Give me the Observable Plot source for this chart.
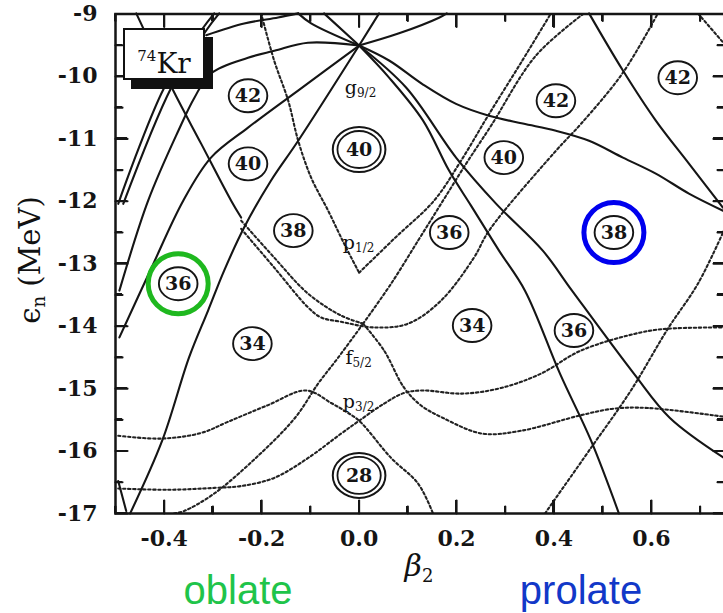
<!DOCTYPE html>
<html><head><meta charset="utf-8">
<script src="https://cdn.jsdelivr.net/npm/d3@7"></script>
<script src="https://cdn.jsdelivr.net/npm/@observablehq/plot@0.6"></script>
<style>
html,body{margin:0;padding:0;background:#fff;overflow:hidden;}
#wrap{position:relative;width:723px;height:613px;overflow:hidden;}
#wrap > svg{position:absolute;left:0;top:0;}
.ov{position:absolute;white-space:nowrap;}
.tk{position:absolute;background:#151515;}
.lvl{font-family:'DejaVu Serif',serif;font-size:19px;color:#111;transform:translate(-50%,-50%);}
.lvl sub{font-size:12px;vertical-align:-3px;}
#kr{left:123px;top:28px;width:78px;height:48px;border:2px solid #111;background:#fff;box-shadow:8px 9px 0 #111;
  font-family:'DejaVu Serif',serif;font-size:28px;text-align:center;line-height:52px;color:#111;}
#kr sup{font-size:15px;vertical-align:12px;}
#ylab{left:31px;top:260px;transform:translate(-50%,-50%) rotate(-90deg);font-family:'DejaVu Serif',serif;font-size:29px;color:#111;}
#ylab sub{font-size:18px;vertical-align:-5px;}
#xlab{left:419px;top:567px;transform:translate(-50%,-50%);font-family:'DejaVu Serif',serif;font-size:30px;font-style:italic;color:#111;}
#xlab sub{font-size:18px;font-style:normal;vertical-align:-6px;}
.side{top:568px;font-family:'Liberation Sans',Arial,sans-serif;font-size:40px;transform:translateX(-50%);}
#obl{left:238px;color:#1fc44a;}
#pro{left:581px;color:#1238c8;}
</style></head><body><div id="wrap"></div>
<script>
// ---------- axis ticks ----------
const betaTicks = [-0.4, -0.2, 0, 0.2, 0.4, 0.6];
const betaMinor = [-0.5, -0.3, -0.1, 0.1, 0.3, 0.5, 0.7];
const energyTicks = [-17, -16, -15, -14, -13, -12, -11, -10, -9];
const energyMinor = [-16.5, -15.5, -14.5, -13.5, -12.5, -11.5, -10.5, -9.5];

// ---------- solid (positive parity) levels: [beta2, energy MeV] ----------
const g9Obl92 = [[0,-9.505],[-0.125,-11.03],[-0.181,-11.67],[-0.236,-12.42],[-0.277,-13.11],[-0.31,-13.75],[-0.349,-14.50],[-0.404,-15.83],[-0.47,-17.0]];
const g9Obl72 = [[0,-9.505],[-0.105,-9.46],[-0.174,-9.59],[-0.228,-9.70],[-0.304,-9.95],[-0.338,-10.34],[-0.371,-10.87],[-0.433,-11.99],[-0.492,-13.43]];
const g9Obl52 = [[0,-9.505],[-0.119,-10.19],[-0.228,-10.82],[-0.304,-11.30],[-0.361,-11.99],[-0.427,-13.08],[-0.492,-14.18]];
const g9Obl12 = [[0,-9.505],[-0.072,-8.99]];
const g9Obl32 = [[0,-9.505],[-0.0985,-9.15],[-0.125,-8.99]];
const g9Pro92 = [[0,-9.505],[0.041,-8.99]];
const g9Pro72 = [[0,-9.505],[0.082,-9.31],[0.164,-9.06],[0.18,-8.99]];
const g9Pro12 = [[0,-9.505],[0.0615,-10.018],[0.1313,-10.707],[0.1846,-11.508],[0.2297,-12.069],[0.2872,-12.79],[0.3405,-13.431],[0.4123,-14.76],[0.4759,-15.83],[0.5333,-17.0]];
const g9Pro32 = [[0,-9.505],[0.0964,-10.178],[0.199,-11.30],[0.281,-12.037],[0.377,-12.79],[0.437,-13.43],[0.564,-14.76],[0.638,-15.47],[0.749,-16.11]];
const g9Pro52 = [[0,-9.505],[0.0615,-9.745],[0.1313,-10.13],[0.199,-10.44],[0.2667,-10.63],[0.336,-10.755],[0.404,-10.87],[0.472,-11.03],[0.5415,-11.30],[0.609,-11.556],[0.677,-11.876],[0.747,-12.15]];
const d5Pro = [[0.472,-8.99],[0.5415,-9.905],[0.609,-10.707],[0.677,-11.396],[0.7467,-12.10]];
const oblSteepA = [[-0.4944,-12.04],[-0.4,-10.18],[-0.3241,-9.264],[-0.2974,-8.99]];
const oblSteepB = [[-0.4841,-12.04],[-0.3856,-10.18],[-0.3138,-9.264],[-0.2872,-8.99]];
const oblDown = [[-0.4574,-8.99],[-0.3815,-10.226],[-0.324,-11.08],[-0.2626,-11.99],[-0.2421,-12.26]];
const oblArc = [[-0.3138,-9.34],[-0.2359,-9.152],[-0.1662,-9.056],[-0.1251,-8.99]];
const oblCorner = [[-0.4944,-16.48],[-0.478,-16.96]];

// ---------- dotted (negative parity) levels ----------
const p12Left = [[-0.201,-8.99],[-0.1744,-9.745],[-0.1456,-10.386],[-0.1251,-11.027],[-0.0985,-11.62],[-0.0636,-12.149],[-0.0308,-12.678],[0,-13.143]];
const p12Right = [[0,-13.143],[0.0759,-12.57],[0.1538,-11.99],[0.2092,-11.35],[0.2646,-10.63],[0.3323,-9.78],[0.3938,-8.99]];
const f52Up = [[0.0082,-13.96],[0.0656,-13.32],[0.121,-12.63],[0.1682,-12.04],[0.2195,-11.40],[0.2708,-10.79],[0.3631,-9.665],[0.4615,-8.99]];
const f52Dip = [[-0.2421,-12.44],[-0.1744,-13.06],[-0.1046,-13.70],[-0.0779,-13.86],[-0.0369,-13.93],[0.0308,-14.02],[0.1005,-13.96],[0.1682,-13.59],[0.2359,-12.90],[0.2667,-12.47],[0.4041,-11.19],[0.4554,-10.76],[0.5415,-9.94],[0.6133,-8.99]];
const f52Cross = [[-0.2421,-12.31],[-0.1744,-12.90],[-0.1046,-13.48],[-0.0369,-13.83],[0.0082,-13.96]];
const p32Hump = [[-0.4944,-15.755],[-0.4062,-15.80],[-0.3241,-15.71],[-0.2687,-15.53],[-0.1887,-15.27],[-0.1087,-15.03],[-0.0574,-15.23],[-0.0267,-15.37],[0,-15.514],[0.0656,-16.11],[0.121,-16.52],[0.1518,-17.0]];
const p32Low = [[-0.4944,-16.60],[-0.3918,-16.62],[-0.2974,-16.59],[-0.2421,-16.56],[-0.1744,-16.43],[-0.1046,-16.11],[-0.0369,-15.72],[0,-15.514],[0.0513,-15.24],[0.0923,-15.07],[0.1313,-15.03],[0.2113,-15.08],[0.2913,-14.99],[0.3733,-14.76],[0.4554,-14.39],[0.5785,-14.10],[0.6338,-14.04],[0.7487,-14.02]];
const f52Down = [[0.0082,-13.96],[0.0513,-14.39],[0.0923,-14.985],[0.1272,-15.27],[0.1723,-15.47],[0.2523,-15.72],[0.3323,-15.675],[0.4533,-15.43],[0.5231,-15.32],[0.5928,-15.31],[0.7487,-15.45]];
const f52Obl = [[0.0082,-13.96],[-0.0431,-14.505],[-0.0841,-14.92],[-0.1313,-15.466],[-0.2092,-16.09],[-0.2974,-16.68],[-0.359,-16.96],[-0.38,-17.0]];
const f72Up = [[0.3815,-17.0],[0.4759,-15.95],[0.5579,-15.03],[0.6338,-14.04],[0.6954,-13.32],[0.7487,-12.47]];
const topRight = [[0.6954,-8.99],[0.7487,-9.47]];

// ---------- shell-gap labels ----------
const gapSingle = [
  {n:"42", b:-0.228, e:-10.31}, {n:"40", b:-0.228, e:-11.40}, {n:"38", b:-0.135, e:-12.47},
  {n:"36", b:-0.3713, e:-13.32}, {n:"34", b:-0.219, e:-14.28},
  {n:"36", b:0.185, e:-12.50}, {n:"34", b:0.232, e:-13.99}, {n:"40", b:0.297, e:-11.30},
  {n:"42", b:0.404, e:-10.39}, {n:"42", b:0.654, e:-10.02}, {n:"38", b:0.523, e:-12.50}, {n:"36", b:0.441, e:-14.07}
];
const gapDouble = [{n:"40", b:0, e:-11.17}, {n:"28", b:0, e:-16.39}];
const oblateMark = [{b:-0.3713, e:-13.32}];
const prolateMark = [{b:0.523, e:-12.50}];
const levelLabels = [
  {l:"g", j:"9/2", b:0.004, e:-10.19}, {l:"p", j:"1/2", b:0, e:-12.68},
  {l:"f", j:"5/2", b:0, e:-14.52}, {l:"p", j:"3/2", b:0, e:-15.23}
];

const solidList = [["g9Obl92",g9Obl92],["g9Obl72",g9Obl72],["g9Obl52",g9Obl52],["g9Obl12",g9Obl12],["g9Obl32",g9Obl32],
  ["g9Pro92",g9Pro92],["g9Pro72",g9Pro72],["g9Pro12",g9Pro12],["g9Pro32",g9Pro32],["g9Pro52",g9Pro52],["d5Pro",d5Pro],
  ["oblSteepA",oblSteepA],["oblSteepB",oblSteepB],["oblDown",oblDown],["oblArc",oblArc],["oblCorner",oblCorner]];
const dottedList = [["p12Left",p12Left],["p12Right",p12Right],["f52Up",f52Up],["f52Dip",f52Dip],["f52Cross",f52Cross],
  ["p32Hump",p32Hump],["p32Low",p32Low],["f52Down",f52Down],["f52Obl",f52Obl],["f72Up",f72Up],["topRight",topRight]];
const rows = list => list.flatMap(([id, pts]) => pts.map(([b, e]) => ({id, b, e})));

const ellipse = {
  draw(ctx, size) {
    const r = Math.sqrt(size / Math.PI), rx = r * 1.17, ry = r, k = 0.5523;
    ctx.moveTo(rx, 0);
    ctx.bezierCurveTo(rx, ry*k, rx*k, ry, 0, ry);
    ctx.bezierCurveTo(-rx*k, ry, -rx, ry*k, -rx, 0);
    ctx.bezierCurveTo(-rx, -ry*k, -rx*k, -ry, 0, -ry);
    ctx.bezierCurveTo(rx*k, -ry, rx, -ry*k, rx, 0);
    ctx.closePath();
  }
};
const ink = "#151515";
const axisFont = {fontSize: 22, fontWeight: "bold", fill: ink};

// layout
const W = 723, H = 613, mL = 115, mR = -1, mT = 13.5, mB = 100;
const xDom = [-0.5, 0.75], yDom = [-17, -9];
const pxPerB = (W - mL - mR) / (xDom[1] - xDom[0]);
const pxPerE = (H - mT - mB) / (yDom[1] - yDom[0]);
// inward tick segments derived from the tick values (length in px converted to data units)
const tickSegs = [];
const addX = (vals, len, side) => vals.forEach(v => {
  const id = `x${side}${v}`, e0 = side === "b" ? yDom[0] : yDom[1], s = side === "b" ? 1 : -1;
  tickSegs.push({id, b: v, e: e0}, {id, b: v, e: e0 + s * len / pxPerE});
});
const addY = (vals, len, side) => vals.forEach(v => {
  const id = `y${side}${v}`, b0 = side === "l" ? xDom[0] : xDom[1], s = side === "l" ? 1 : -1;
  tickSegs.push({id, b: b0, e: v}, {id, b: b0 + s * len / pxPerB, e: v});
});
addX(betaTicks, 13, "b"); addX(betaMinor, 7, "b"); addX(betaTicks, 13, "t"); addX(betaMinor, 7, "t");
addY(energyTicks, 12, "l"); addY(energyMinor, 7, "l"); addY(energyTicks, 11, "r"); addY(energyMinor, 7, "r");

const chart = Plot.plot({
  width: W, height: H,
  marginLeft: mL, marginRight: mR, marginTop: mT, marginBottom: mB,
  style: {fontFamily: "'DejaVu Serif', serif", background: "white", color: ink},
  x: {domain: xDom, axis: null},
  y: {domain: yDom, axis: null},
  marks: [
    Plot.line(rows(dottedList), {x: "b", y: "e", z: "id", stroke: "#222", strokeWidth: 2.1, strokeDasharray: "2.4,2.6", curve: "catmull-rom", clip: true}),
    Plot.line(rows(solidList).concat(tickSegs), {x: "b", y: "e", z: "id", stroke: ink, strokeWidth: 2.1, curve: "catmull-rom"}),
    Plot.dot(gapDouble, {x: "b", y: "e", r: 22.5, symbol: ellipse, stroke: ink, strokeWidth: 2, fill: "white"}),
    Plot.dot(gapDouble, {x: "b", y: "e", r: 18.5, symbol: ellipse, stroke: ink, strokeWidth: 1.8, fill: "none"}),
    Plot.dot(gapSingle, {x: "b", y: "e", r: 16.5, symbol: ellipse, stroke: ink, strokeWidth: 1.9, fill: "white"}),
    Plot.text(gapSingle, {x: "b", y: "e", text: "n", fontSize: 19, fontWeight: "bold", fill: ink}),
    Plot.text(gapDouble, {x: "b", y: "e", text: "n", fontSize: 19, fontWeight: "bold", fill: ink}),
    Plot.dot(oblateMark, {x: "b", y: "e", r: 30, stroke: "#1fb81f", strokeWidth: 5, fill: "none"}),
    Plot.dot(prolateMark, {x: "b", y: "e", r: 30, stroke: "#0000ee", strokeWidth: 5, fill: "none"}),
    Plot.frame({stroke: ink, strokeWidth: 2.5}),
    Plot.axisX(betaTicks, {anchor: "bottom", tickSize: 0, tickPadding: 17, tickFormat: d => d.toFixed(1), label: null, ...axisFont}),
    Plot.axisY(energyTicks, {anchor: "left", tickSize: 0, tickPadding: 18, tickFormat: d => String(d), label: null, ...axisFont})
  ]
});

const wrap = document.getElementById("wrap");
wrap.appendChild(chart);
const sx = chart.scale("x"), sy = chart.scale("y");
// fallback inward ticks placed with the chart's own scales
const addTick = (left, top, w, h) => {
  const t = document.createElement("div");
  t.className = "tk";
  Object.assign(t.style, {left: left + "px", top: top + "px", width: w + "px", height: h + "px"});
  wrap.appendChild(t);
};
const x0 = sx.apply(xDom[0]), x1 = sx.apply(xDom[1]), y0 = sy.apply(yDom[0]), y1 = sy.apply(yDom[1]);
for (const [vals, len] of [[betaTicks, 13], [betaMinor, 7]]) for (const v of vals) {
  const px = sx.apply(v);
  addTick(px - 1, y0 - len, 2, len);
  addTick(px - 1, y1, 2, len);
}
for (const [vals, len, lenR] of [[energyTicks, 12, 11], [energyMinor, 7, 7]]) for (const v of vals) {
  const py = sy.apply(v);
  addTick(x0, py - 1, len, 2);
  addTick(x1 - lenR, py - 1, lenR, 2);
}
for (const L of levelLabels) {
  const d = document.createElement("div");
  d.className = "ov lvl";
  d.style.left = sx.apply(L.b) + "px";
  d.style.top = sy.apply(L.e) + "px";
  d.innerHTML = `${L.l}<sub>${L.j}</sub>`;
  wrap.appendChild(d);
}
wrap.insertAdjacentHTML("beforeend", `
<div class="ov" id="kr"><sup>74</sup>Kr</div>
<div class="ov" id="ylab">&#x3F5;<sub>n</sub> (MeV)</div>
<div class="ov" id="xlab">&#x3B2;<sub>2</sub></div>
<div class="ov side" id="obl">oblate</div>
<div class="ov side" id="pro">prolate</div>`);
</script></body></html>
